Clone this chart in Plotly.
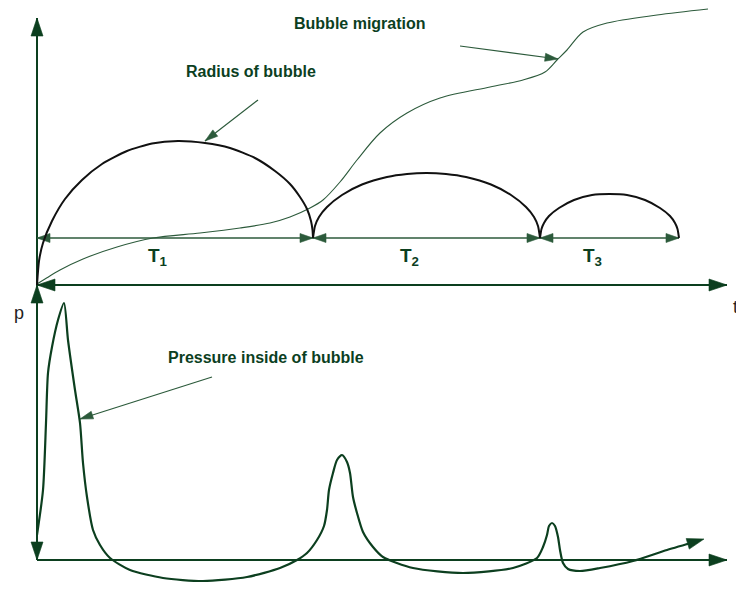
import numpy as np
import plotly.graph_objects as go

# ---- data -------------------------------------------------------------
# time measured from the origin; upper panel values are heights above the t axis,
# lower panel values are pressure above the zero-pressure line

# ends of the three oscillation periods T1, T2, T3
period_edges = [0, 276, 503, 642]
period_labels = ["T<sub>1</sub>", "T<sub>2</sub>", "T<sub>3</sub>"]
period_level = 47          # height of the period arrows

# bubble radius, one arch per period
r1_t = [0, 2, 6, 15, 28, 45, 65, 90, 115, 141, 168, 193, 218, 238, 253, 263, 270, 274, 275.5, 276]
r1_v = [0, 24, 42, 64, 86, 105, 121, 134, 141.5, 144, 142, 137, 127, 114, 101, 88, 76, 64, 55, 47]
r2_t = [276, 278, 282, 290, 305, 325, 350, 370, 389.5, 409, 429, 454, 474, 489, 497, 501, 503]
r2_v = [47, 59, 68, 78, 90, 100.5, 108, 111, 112, 111, 108, 100.5, 90, 78, 68, 59, 47]
r3_t = [503, 504.5, 507, 512, 522, 537, 555, 572.5, 590, 608, 623, 633, 638, 640.5, 642]
r3_v = [47, 56, 62, 69, 77, 85, 90, 91, 90, 85, 77, 69, 62, 56, 47]

# upward migration of the bubble
mig_t = [0, 8, 23, 46, 80, 116, 163, 203, 233, 253, 273, 286, 303, 320, 343, 370, 403,
         453, 486, 508, 520, 530, 546, 570, 620, 671]
mig_v = [1, 6, 15, 26, 38, 47, 52, 57, 62, 68, 77, 85, 103, 125, 152, 172, 187,
         198, 205, 213, 225, 235, 253, 262, 270, 276]

# pressure inside the bubble
p_t = [0, 6, 9, 11, 15, 21, 27, 31, 38, 43, 46, 50, 56, 63, 73, 93, 126, 166, 210, 243,
       260, 270, 280, 287, 290, 292, 296, 300, 305, 310, 313, 316, 320, 326, 336, 346,
       376, 426, 476, 500, 506, 510, 512, 515, 518, 521, 523, 526, 531, 543, 563, 596, 630, 661]
p_v = [25, 70, 137, 187, 213, 240, 257, 220, 170, 137, 97, 63, 30, 15, 2, -10, -18, -21, -17, -8,
       0, 7, 20, 34, 50, 70, 87, 100, 105, 98, 87, 63, 47, 28, 13, 3,
       -8, -13, -8, 2, 13, 25, 34, 37, 34, 23, 10, -3, -9, -11, -8, -1, 10, 19]

# axis extents
t_end = 690
top_end = 267
p_end = 275

# callout arrows (tail, tip)
mig_call = ((423, 239), (521, 226))
rad_call = ((221, 185), (168, 144))
pre_call = ((175, 183), (43, 141))

# ---- styles -------------------------------------------------------------
GREEN = "#0c3f1f"
THIN_GREEN = "#2c5a3b"
BLACK = "#111111"
FONT = "Liberation Sans, Arial, sans-serif"

fig = go.Figure()


def line(x, y, color, width, yaxis="y", spline=False, smoothing=1.0):
    fig.add_trace(go.Scatter(
        x=x, y=y, yaxis=yaxis, mode="lines",
        line=dict(color=color, width=width,
                  shape="spline" if spline else "linear", smoothing=smoothing),
        hoverinfo="skip", showlegend=False))


def head(tail, tip, length, half, color, yaxis="y"):
    (x0, y0), (x1, y1) = tail, tip
    dx, dy = x1 - x0, y1 - y0
    n = np.hypot(dx, dy)
    ux, uy = dx / n, dy / n
    bx, by = x1 - ux * length, y1 - uy * length
    nx, ny = -uy * half, ux * half
    fig.add_trace(go.Scatter(
        x=[x1, bx + nx, bx - nx, x1], y=[y1, by + ny, by - ny, y1], yaxis=yaxis,
        mode="lines", fill="toself", fillcolor=color,
        line=dict(color=color, width=0.6), hoverinfo="skip", showlegend=False))


def arrow(a, b, color, width, length, half, yaxis="y", both=False):
    line([a[0], b[0]], [a[1], b[1]], color, width, yaxis)
    head(a, b, length, half, color, yaxis)
    if both:
        head(b, a, length, half, color, yaxis)


# axes
arrow((0, 0), (0, top_end), GREEN, 2, 18, 6)
arrow((0, 0), (t_end, 0), GREEN, 2, 18, 6, both=True)
arrow((0, 0), (0, p_end), GREEN, 2, 18, 6, yaxis="y2", both=True)
arrow((0, 0), (t_end, 0), GREEN, 2, 18, 6, yaxis="y2")

# period arrows
for a, b in zip(period_edges[:-1], period_edges[1:]):
    arrow((a, period_level), (b, period_level), THIN_GREEN, 1.3, 13, 4.5, both=True)

# migration path
line(mig_t, mig_v, THIN_GREEN, 1.1, spline=True, smoothing=0.9)

# radius arches
for tt, vv in ((r1_t, r1_v), (r2_t, r2_v), (r3_t, r3_v)):
    line(tt, vv, BLACK, 2, spline=True, smoothing=0.6)

# pressure curve, ending in an arrow
line(p_t, p_v, GREEN, 2.2, yaxis="y2", spline=True, smoothing=0.7)
head((p_t[-2], p_v[-2]), (p_t[-1] + 6, p_v[-1] + 2), 17, 5.5, GREEN, yaxis="y2")

# callouts
arrow(*mig_call, THIN_GREEN, 1.2, 13, 4)
arrow(*rad_call, THIN_GREEN, 1.2, 13, 4)
arrow(*pre_call, THIN_GREEN, 1.2, 13, 4, yaxis="y2")

bold = dict(family=FONT, size=16, color=GREEN, weight="bold")
notes = [
    dict(x=323, y=262, yref="y", text="Bubble migration", font=bold),
    dict(x=214, y=214, yref="y", text="Radius of bubble", font=bold),
    dict(x=229, y=203, yref="y2", text="Pressure inside of bubble", font=bold),
    dict(x=-18, y=-28, yref="y", text="p", font=dict(family=FONT, size=18, color="#222222")),
    dict(x=694, y=-22, yref="y", text="t", xanchor="left",
         font=dict(family=FONT, size=18, color="#222222")),
]
for a, b, lab in zip(period_edges[:-1], period_edges[1:], period_labels):
    notes.append(dict(x=(a + b) / 2 - 17, y=28, yref="y", text=lab,
                      font=dict(family=FONT, size=19, color=GREEN, weight="bold")))

for n in notes:
    n.setdefault("xanchor", "center")
    fig.add_annotation(xref="x", showarrow=False, yanchor="middle", **n)

fig.update_layout(
    width=736, height=590,
    margin=dict(l=0, r=0, t=0, b=0),
    paper_bgcolor="white", plot_bgcolor="white",
    xaxis=dict(range=[-37, 699], visible=False, fixedrange=True),
    yaxis=dict(range=[-305, 285], visible=False, fixedrange=True),
    yaxis2=dict(range=[-30, 560], visible=False, overlaying="y", fixedrange=True),
    showlegend=False,
)

fig.write_html("out.html")
